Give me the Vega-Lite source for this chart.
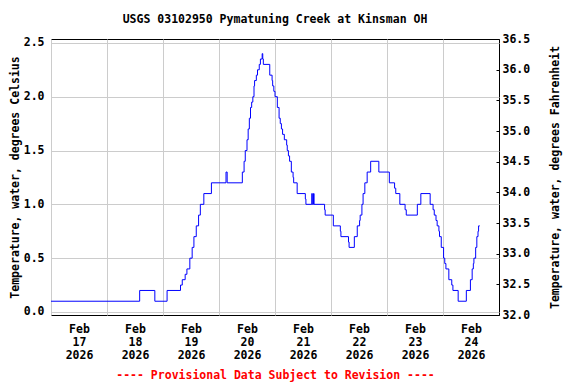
{
  "$schema": "https://vega.github.io/schema/vega-lite/v6.json",
  "width": 448,
  "height": 276,
  "autosize": {"type": "none"},
  "padding": {"left": 51, "top": 39, "right": 77, "bottom": 69},
  "background": "white",
  "title": {"text": "USGS 03102950 Pymatuning Creek at Kinsman OH", "font": "DejaVu Sans Mono", "fontSize": 11.5, "fontWeight": "bold", "color": "black", "anchor": "middle", "offset": 8},
  "config": {
    "view": {"stroke": "black", "strokeWidth": 1},
    "axis": {"labelFont": "DejaVu Sans Mono", "labelFontSize": 11.5, "labelFontWeight": "bold", "labelColor": "black", "titleFont": "DejaVu Sans Mono", "titleFontSize": 11.5, "titleFontWeight": "bold", "titleColor": "black", "gridColor": "#cccccc", "gridOpacity": 1, "gridWidth": 1, "domain": false}
  },
  "data": {"values": [
    {"time": "2026-02-17T00:00", "temp": 0.1},
    {"time": "2026-02-18T14:00", "temp": 0.2},
    {"time": "2026-02-18T20:30", "temp": 0.1},
    {"time": "2026-02-19T01:45", "temp": 0.2},
    {"time": "2026-02-19T07:30", "temp": 0.25},
    {"time": "2026-02-19T08:15", "temp": 0.3},
    {"time": "2026-02-19T09:30", "temp": 0.35},
    {"time": "2026-02-19T10:15", "temp": 0.4},
    {"time": "2026-02-19T11:30", "temp": 0.5},
    {"time": "2026-02-19T12:30", "temp": 0.6},
    {"time": "2026-02-19T13:15", "temp": 0.7},
    {"time": "2026-02-19T14:15", "temp": 0.8},
    {"time": "2026-02-19T15:15", "temp": 0.9},
    {"time": "2026-02-19T16:00", "temp": 1.0},
    {"time": "2026-02-19T17:30", "temp": 1.1},
    {"time": "2026-02-19T20:45", "temp": 1.2},
    {"time": "2026-02-20T03:00", "temp": 1.3},
    {"time": "2026-02-20T03:30", "temp": 1.2},
    {"time": "2026-02-20T10:00", "temp": 1.3},
    {"time": "2026-02-20T10:45", "temp": 1.4},
    {"time": "2026-02-20T11:15", "temp": 1.5},
    {"time": "2026-02-20T12:00", "temp": 1.6},
    {"time": "2026-02-20T12:30", "temp": 1.7},
    {"time": "2026-02-20T13:00", "temp": 1.8},
    {"time": "2026-02-20T13:30", "temp": 1.9},
    {"time": "2026-02-20T14:00", "temp": 1.95},
    {"time": "2026-02-20T14:30", "temp": 2.0},
    {"time": "2026-02-20T15:00", "temp": 2.1},
    {"time": "2026-02-20T15:15", "temp": 2.15},
    {"time": "2026-02-20T16:00", "temp": 2.2},
    {"time": "2026-02-20T16:30", "temp": 2.25},
    {"time": "2026-02-20T17:15", "temp": 2.3},
    {"time": "2026-02-20T17:45", "temp": 2.35},
    {"time": "2026-02-20T18:30", "temp": 2.4},
    {"time": "2026-02-20T18:45", "temp": 2.35},
    {"time": "2026-02-20T19:00", "temp": 2.3},
    {"time": "2026-02-20T21:45", "temp": 2.2},
    {"time": "2026-02-20T22:45", "temp": 2.15},
    {"time": "2026-02-20T23:00", "temp": 2.1},
    {"time": "2026-02-20T23:30", "temp": 2.05},
    {"time": "2026-02-21T00:00", "temp": 2.0},
    {"time": "2026-02-21T01:00", "temp": 1.9},
    {"time": "2026-02-21T01:45", "temp": 1.8},
    {"time": "2026-02-21T02:15", "temp": 1.75},
    {"time": "2026-02-21T02:45", "temp": 1.7},
    {"time": "2026-02-21T03:15", "temp": 1.65},
    {"time": "2026-02-21T04:00", "temp": 1.6},
    {"time": "2026-02-21T05:00", "temp": 1.55},
    {"time": "2026-02-21T05:15", "temp": 1.5},
    {"time": "2026-02-21T05:45", "temp": 1.45},
    {"time": "2026-02-21T06:15", "temp": 1.4},
    {"time": "2026-02-21T07:00", "temp": 1.3},
    {"time": "2026-02-21T07:45", "temp": 1.25},
    {"time": "2026-02-21T08:00", "temp": 1.2},
    {"time": "2026-02-21T09:30", "temp": 1.1},
    {"time": "2026-02-21T13:00", "temp": 1.05},
    {"time": "2026-02-21T13:15", "temp": 1.0},
    {"time": "2026-02-21T15:45", "temp": 1.1},
    {"time": "2026-02-21T16:00", "temp": 1.0},
    {"time": "2026-02-21T16:30", "temp": 1.1},
    {"time": "2026-02-21T16:45", "temp": 1.0},
    {"time": "2026-02-21T21:15", "temp": 0.95},
    {"time": "2026-02-21T21:30", "temp": 0.9},
    {"time": "2026-02-22T01:00", "temp": 0.8},
    {"time": "2026-02-22T04:00", "temp": 0.75},
    {"time": "2026-02-22T04:15", "temp": 0.7},
    {"time": "2026-02-22T07:30", "temp": 0.65},
    {"time": "2026-02-22T07:45", "temp": 0.6},
    {"time": "2026-02-22T10:00", "temp": 0.7},
    {"time": "2026-02-22T11:15", "temp": 0.8},
    {"time": "2026-02-22T12:15", "temp": 0.85},
    {"time": "2026-02-22T12:30", "temp": 0.9},
    {"time": "2026-02-22T13:15", "temp": 1.0},
    {"time": "2026-02-22T13:45", "temp": 1.1},
    {"time": "2026-02-22T14:30", "temp": 1.2},
    {"time": "2026-02-22T15:30", "temp": 1.3},
    {"time": "2026-02-22T17:00", "temp": 1.4},
    {"time": "2026-02-22T20:30", "temp": 1.3},
    {"time": "2026-02-23T01:00", "temp": 1.2},
    {"time": "2026-02-23T03:15", "temp": 1.15},
    {"time": "2026-02-23T03:45", "temp": 1.1},
    {"time": "2026-02-23T05:30", "temp": 1.0},
    {"time": "2026-02-23T07:45", "temp": 0.95},
    {"time": "2026-02-23T08:15", "temp": 0.9},
    {"time": "2026-02-23T13:00", "temp": 1.0},
    {"time": "2026-02-23T14:30", "temp": 1.1},
    {"time": "2026-02-23T18:30", "temp": 1.0},
    {"time": "2026-02-23T19:45", "temp": 0.95},
    {"time": "2026-02-23T20:15", "temp": 0.9},
    {"time": "2026-02-23T21:00", "temp": 0.85},
    {"time": "2026-02-23T21:30", "temp": 0.8},
    {"time": "2026-02-23T22:15", "temp": 0.75},
    {"time": "2026-02-23T22:30", "temp": 0.7},
    {"time": "2026-02-23T23:15", "temp": 0.6},
    {"time": "2026-02-24T00:15", "temp": 0.5},
    {"time": "2026-02-24T00:45", "temp": 0.45},
    {"time": "2026-02-24T01:15", "temp": 0.4},
    {"time": "2026-02-24T02:30", "temp": 0.3},
    {"time": "2026-02-24T03:45", "temp": 0.25},
    {"time": "2026-02-24T04:15", "temp": 0.2},
    {"time": "2026-02-24T06:30", "temp": 0.1},
    {"time": "2026-02-24T10:00", "temp": 0.2},
    {"time": "2026-02-24T11:45", "temp": 0.3},
    {"time": "2026-02-24T12:30", "temp": 0.4},
    {"time": "2026-02-24T13:00", "temp": 0.45},
    {"time": "2026-02-24T13:15", "temp": 0.5},
    {"time": "2026-02-24T14:00", "temp": 0.6},
    {"time": "2026-02-24T14:30", "temp": 0.7},
    {"time": "2026-02-24T15:00", "temp": 0.75},
    {"time": "2026-02-24T15:15", "temp": 0.8},
    {"time": "2026-02-24T15:45", "temp": 0.8}
  ]},
  "layer": [
    {
      "mark": {"type": "line", "interpolate": "step-after", "color": "#0000ff", "strokeWidth": 1},
      "encoding": {
        "x": {
          "field": "time", "type": "temporal",
          "scale": {"domain": [{"year": 2026, "month": 2, "date": 17}, {"year": 2026, "month": 2, "date": 25}]},
          "axis": {
            "values": [
              {"year": 2026, "month": 2, "date": 17}, {"year": 2026, "month": 2, "date": 18},
              {"year": 2026, "month": 2, "date": 19}, {"year": 2026, "month": 2, "date": 20},
              {"year": 2026, "month": 2, "date": 21}, {"year": 2026, "month": 2, "date": 22},
              {"year": 2026, "month": 2, "date": 23}, {"year": 2026, "month": 2, "date": 24}
            ],
            "labelExpr": "[timeFormat(datum.value, '%b'), timeFormat(datum.value, '%d'), timeFormat(datum.value, '%Y')]",
            "labelOffset": 28,
            "labelPadding": 8,
            "labelLineHeight": 13,
            "labelBaseline": "top",
            "labelFlush": false,
            "labelOverlap": false,
            "ticks": false,
            "grid": true,
            "title": "---- Provisional Data Subject to Revision ----",
            "titleColor": "#ff0000",
            "titlePadding": 9
          }
        },
        "y": {
          "field": "temp", "type": "quantitative",
          "scale": {"domain": [-0.028, 2.536], "nice": false, "zero": false},
          "axis": {"values": [0, 0.5, 1, 1.5, 2, 2.5], "format": ".1f", "ticks": false, "labelPadding": 7, "grid": true, "title": "Temperature, water, degrees Celsius", "titlePadding": 3}
        }
      }
    },
    {
      "mark": {"type": "rule", "opacity": 0},
      "encoding": {
        "y": {
          "datum": 32, "type": "quantitative",
          "scale": {"domain": [32, 36.5], "nice": false, "zero": false},
          "axis": {"orient": "right", "values": [32, 32.5, 33, 33.5, 34, 34.5, 35, 35.5, 36, 36.5], "format": ".1f", "grid": false, "ticks": true, "tickSize": -3, "tickColor": "black", "labelPadding": 6, "title": "Temperature, water, degrees Fahrenheit", "titleAngle": 270, "titlePadding": 31}
        }
      }
    }
  ],
  "resolve": {"scale": {"y": "independent"}}
}
